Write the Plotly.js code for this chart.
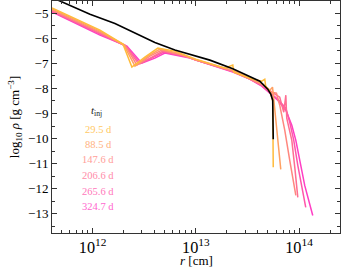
<!DOCTYPE html>
<html>
<head>
<meta charset="utf-8">
<script src="https://cdn.plot.ly/plotly-3.0.1.min.js"></script>
<style>html,body{margin:0;padding:0;background:#fff;}#plot{width:341px;height:268px;}</style>
</head>
<body>
<div id="plot"></div>
<script>
// log10 r [cm] and log10 rho [g cm^-3]
const progenitorLogR   = [11.606, 11.683, 11.974, 12.216, 12.409, 12.603, 12.797, 12.990, 13.136, 13.358, 13.523, 13.62, 13.697, 13.726, 13.745, 13.75];
const progenitorLogRho = [-4.37, -4.51, -5.04, -5.41, -5.79, -6.17, -6.47, -6.71, -6.87, -7.21, -7.51, -7.71, -8.03, -8.23, -8.47, -10.03];

const labels = ["29.5 d", "88.5 d", "147.6 d", "206.6 d", "265.6 d", "324.7 d"];
const colors = ["#ffbb3a", "#ffa062", "#ff877e", "#ff6e92", "#ff55aa", "#ff3ec4"];

const logR_29 = [11.606, 12.071, 12.293, 12.380, 12.506, 12.632, 12.797, 13.0, 13.281, 13.358, 13.368, 13.523, 13.639, 13.668, 13.677, 13.726, 13.745, 13.75];
const logRho_29 = [-4.79, -5.67, -6.23, -7.15, -6.75, -6.39, -6.51, -6.83, -7.19, -7.07, -7.35, -7.59, -7.71, -7.63, -7.91, -8.19, -8.51, -11.15];

const logR_88 = [11.606, 12.071, 12.303, 12.41, 12.535, 12.652, 12.826, 13.0, 13.358, 13.523, 13.649, 13.717, 13.743, 13.756, 13.823];
const logRho_88 = [-4.83, -5.71, -6.27, -7.11, -6.71, -6.43, -6.59, -6.85, -7.27, -7.59, -7.83, -8.07, -7.95, -8.47, -11.23];

const logR_147 = [11.606, 12.071, 12.313, 12.429, 12.555, 12.671, 12.865, 13.0, 13.358, 13.523, 13.649, 13.736, 13.781, 13.813, 13.862, 13.91, 13.949, 13.969];
const logRho_147 = [-4.87, -5.75, -6.27, -7.07, -6.71, -6.47, -6.67, -6.87, -7.31, -7.61, -7.87, -8.15, -8.19, -8.67, -9.67, -10.87, -11.87, -12.27];

const logR_206 = [11.606, 12.071, 12.313, 12.448, 12.574, 12.681, 12.903, 13.0, 13.358, 13.523, 13.649, 13.736, 13.813, 13.852, 13.872, 13.881, 13.93, 13.96, 13.988];
const logRho_206 = [-4.91, -5.79, -6.29, -7.03, -6.75, -6.51, -6.71, -6.87, -7.31, -7.63, -7.87, -8.15, -8.35, -8.95, -8.27, -9.19, -10.07, -11.2, -12.35];

const logR_265 = [11.606, 12.071, 12.322, 12.462, 12.588, 12.69, 12.923, 13.0, 13.358, 13.523, 13.639, 13.717, 13.794, 13.872, 13.91, 13.949, 13.988, 14.065];
const logRho_265 = [-4.93, -5.83, -6.31, -7.01, -6.77, -6.55, -6.75, -6.87, -7.33, -7.63, -7.89, -8.15, -8.43, -8.79, -9.35, -10.07, -11.07, -12.75];

const logR_324 = [11.606, 12.071, 12.332, 12.477, 12.603, 12.70, 12.942, 13.0, 13.358, 13.523, 13.639, 13.717, 13.794, 13.872, 13.93, 13.969, 13.997, 14.055, 14.133];
const logRho_324 = [-4.95, -5.87, -6.31, -6.99, -6.79, -6.59, -6.79, -6.87, -7.35, -7.63, -7.91, -8.19, -8.47, -8.87, -9.47, -10.07, -10.67, -11.87, -13.07];

const seriesR = [logR_29, logR_88, logR_147, logR_206, logR_265, logR_324];
const seriesRho = [logRho_29, logRho_88, logRho_147, logRho_206, logRho_265, logRho_324];

const toR = a => a.map(v => Math.pow(10, v));

const traces = [];
for (let i = seriesR.length - 1; i >= 0; i--) {
  traces.push({
    x: toR(seriesR[i]), y: seriesRho[i], mode: 'lines', type: 'scatter',
    line: {color: colors[i], width: 1.5}, showlegend: false, hoverinfo: 'skip'
  });
}
traces.push({
  x: toR(progenitorLogR), y: progenitorLogRho, mode: 'lines', type: 'scatter',
  line: {color: '#000000', width: 1.6}, showlegend: false, hoverinfo: 'skip'
});

const legendY = [0.444, 0.381, 0.315, 0.246, 0.181, 0.116];
const annotations = [{
  xref: 'paper', yref: 'paper', x: 0.154, y: 0.524, showarrow: false,
  text: '<i>t</i><sub>inj</sub>', font: {family: 'Liberation Serif', size: 11, color: '#222'},
  xanchor: 'center', yanchor: 'middle'
}, {
  xref: 'paper', yref: 'paper', x: 0.5, y: -0.118, showarrow: false,
  text: '<i>r</i> [cm]', font: {family: 'Liberation Serif', size: 13, color: '#000'},
  xanchor: 'center', yanchor: 'middle'
}];
labels.forEach((lab, i) => {
  annotations.push({
    xref: 'paper', yref: 'paper', x: 0.16, y: legendY[i], showarrow: false,
    text: lab, font: {family: 'Liberation Serif', size: 10.5, color: colors[i]},
    opacity: 0.8, xanchor: 'center', yanchor: 'middle'
  });
});

const axisCommon = {
  showgrid: false, zeroline: false, showline: true, linecolor: '#333', linewidth: 1,
  mirror: 'allticks', ticks: 'inside', ticklen: 5, tickcolor: '#333', tickwidth: 1,
  tickfont: {family: 'Liberation Serif', size: 13, color: '#000'}
};

const layout = {
  width: 341, height: 268,
  margin: {l: 52, r: 1, t: 1, b: 35},
  paper_bgcolor: '#fff', plot_bgcolor: '#fff',
  font: {family: 'Liberation Serif', color: '#000'},
  xaxis: Object.assign({}, axisCommon, {
    type: 'log', range: [11.606, 14.397], dtick: 1, exponentformat: 'power',
    minor: {ticks: 'inside', ticklen: 3, tickcolor: '#333', showgrid: false}
  }),
  yaxis: Object.assign({}, axisCommon, {
    range: [-13.77, -4.51], dtick: 1,
    minor: {ticks: 'inside', ticklen: 3, dtick: 0.5, tickcolor: '#333', showgrid: false},
    title: {text: 'log<sub>10</sub> <i>ρ</i> [g cm<sup>−3</sup>]', font: {family: 'Liberation Serif', size: 13}, standoff: 5}
  }),
  annotations: annotations
};

Plotly.newPlot('plot', traces, layout, {staticPlot: true, displayModeBar: false});
</script>
</body>
</html>
